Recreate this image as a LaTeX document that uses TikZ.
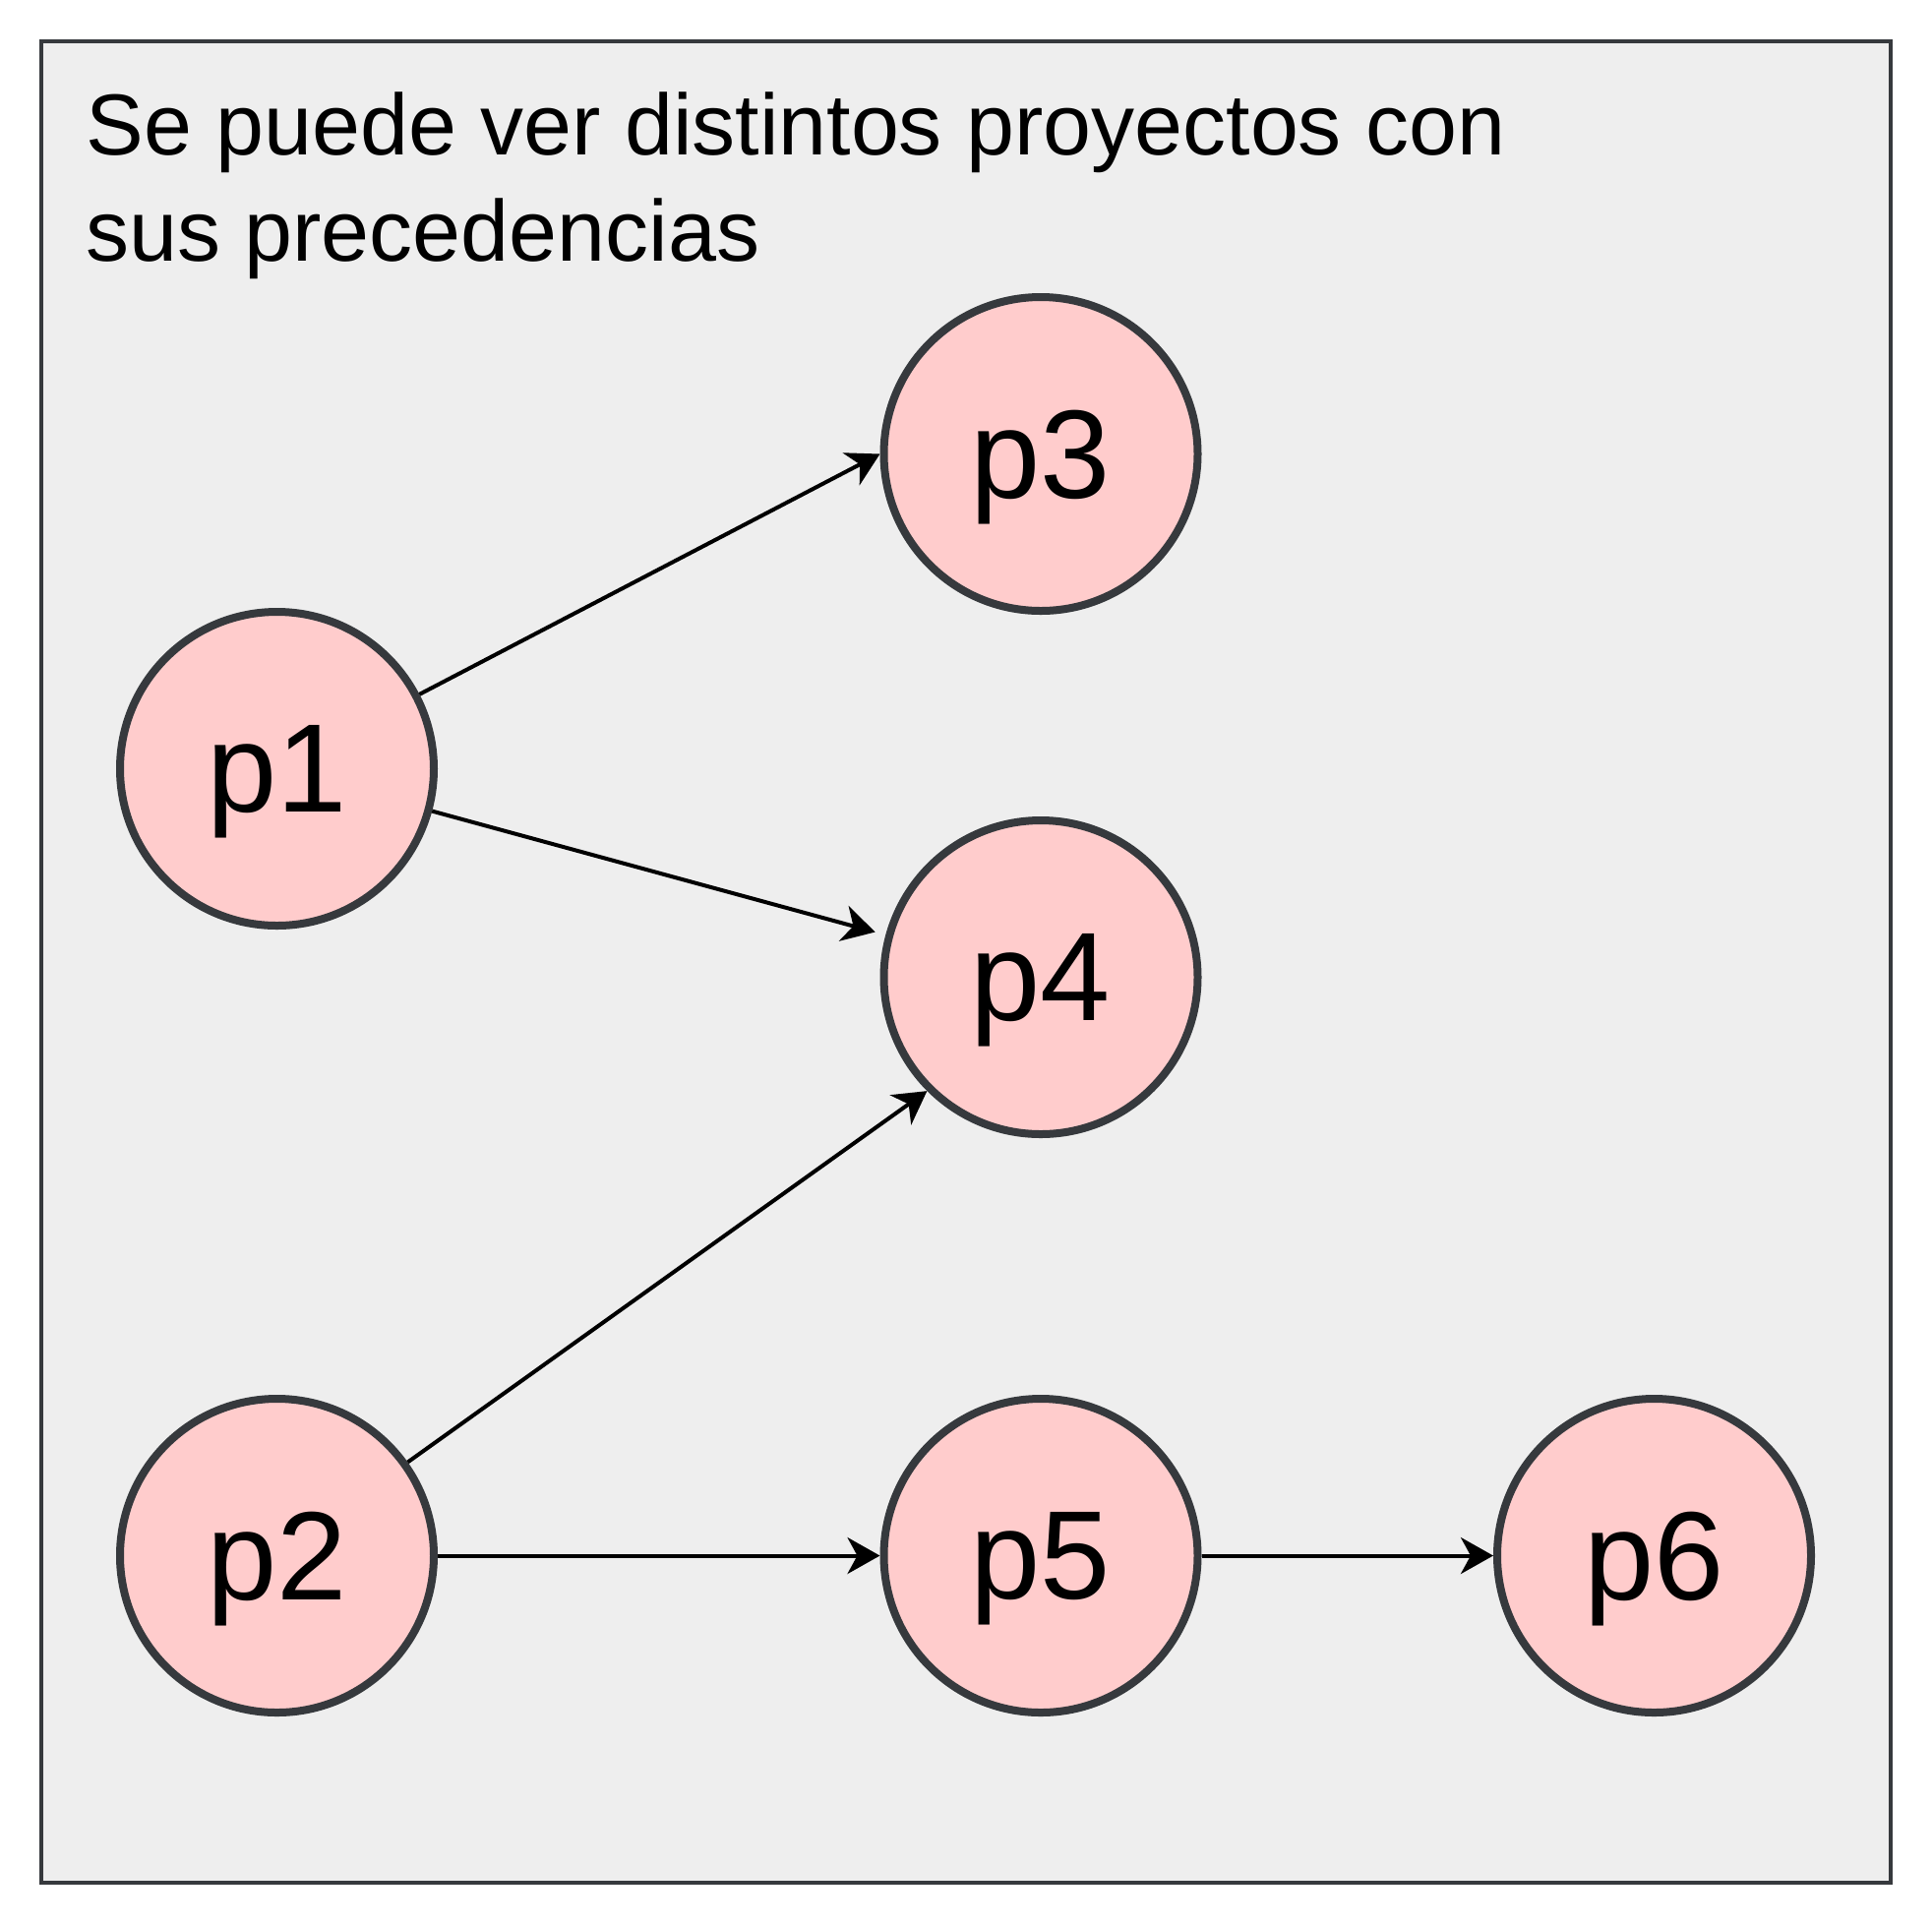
\documentclass[tikz,border=0pt]{standalone}
\usepackage{fontspec}
\setmainfont{Liberation Sans}
\usetikzlibrary{arrows.meta}
\definecolor{panelfill}{HTML}{EEEEEE}
\definecolor{edgegray}{HTML}{36393D}
\definecolor{nodefill}{HTML}{FFCCCC}
\begin{document}
\begin{tikzpicture}[x=0.5pt,y=-0.5pt,
  panel/.style={draw=edgegray, fill=panelfill, line width=2pt},
  proj/.style={circle, draw=edgegray, fill=nodefill, line width=4pt, minimum size=159.5pt, inner sep=0pt, font=\fontsize{64}{64}\selectfont, text depth=0pt},
  link/.style={draw=black, line width=2pt, -{Stealth[length=16.5pt,width=18.5pt,inset=5pt]}}]
\useasboundingbox (0,0) rectangle (1964,1956);
\draw[panel] (42,42) rectangle (1921.5,1913.5);
\node[anchor=base west, align=left, font=\fontsize{44}{54}\selectfont, inner sep=0pt] (title) at (87,265) {Se puede ver distintos proyectos con\\sus precedencias};
\node[proj] (p1) at (281.5,781.5) {p1};
\node[proj] (p3) at (1058,461.5) {p3};
\node[proj] (p4) at (1058,993.5) {p4};
\node[proj] (p2) at (281.5,1581.5) {p2};
\node[proj] (p5) at (1058,1581.5) {p5};
\node[proj] (p6) at (1681.5,1581.5) {p6};
\draw[link] (p1) -- (p3.west);
\draw[link, shorten >=5.5pt] (p1) -- (p4);
\draw[link] (p2) -- (p4.south west);
\draw[link] (p2.east) -- (p5.west);
\draw[link] (p5.east) -- (p6.west);
\end{tikzpicture}
\end{document}
